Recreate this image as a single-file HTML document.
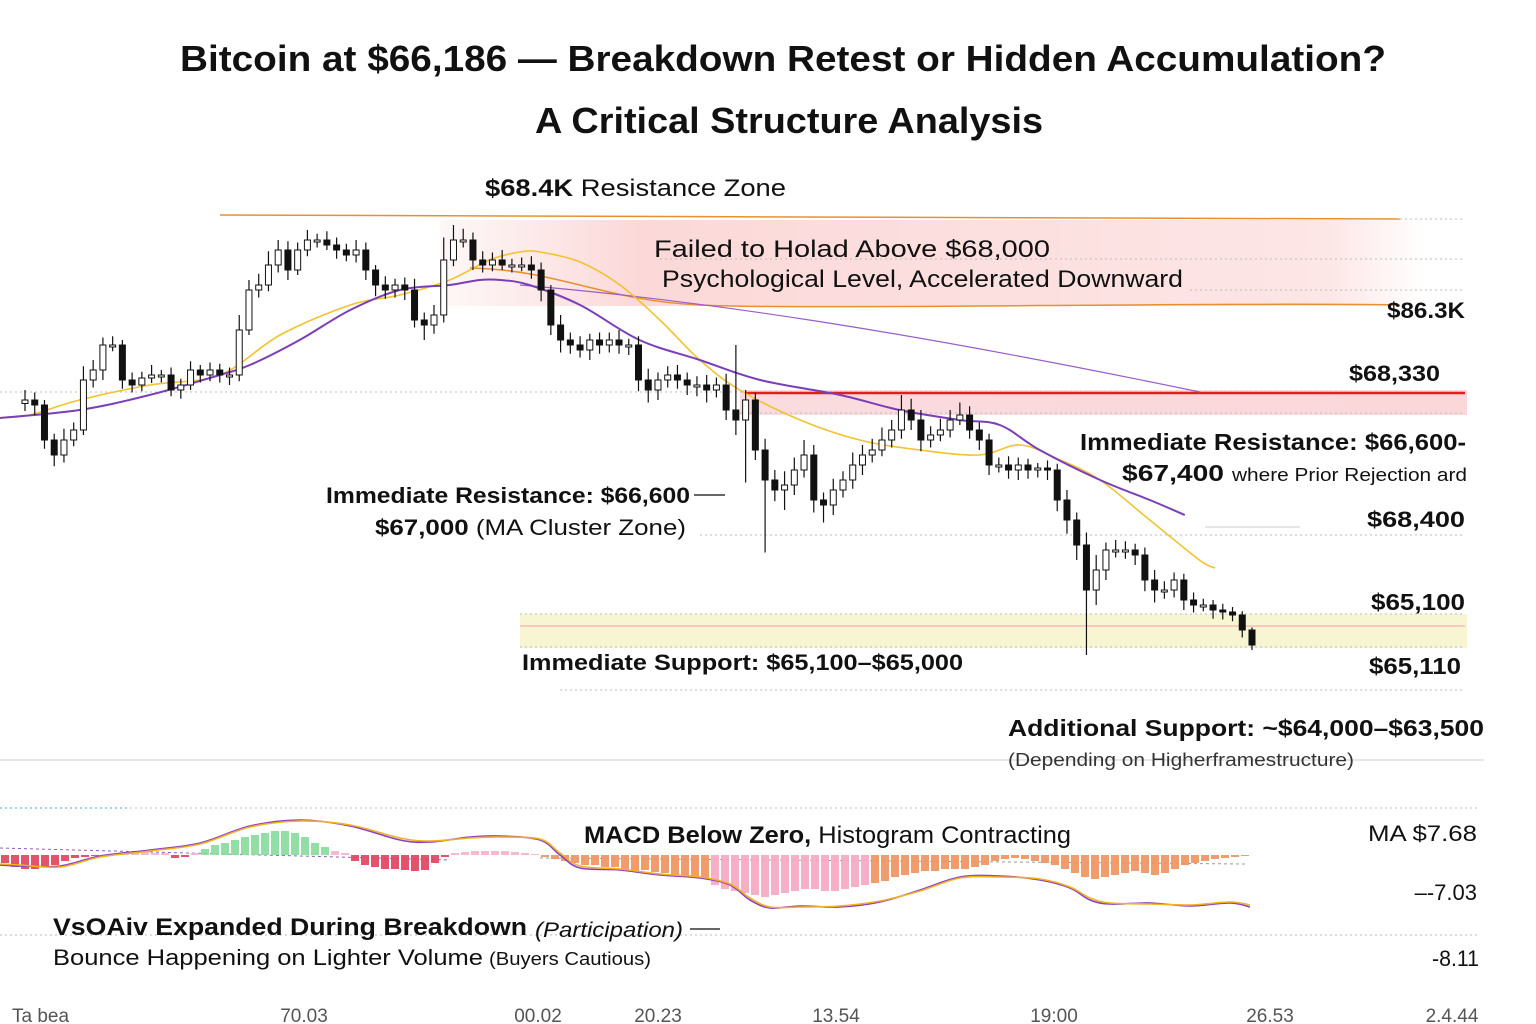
<!DOCTYPE html>
<html><head><meta charset="utf-8"><style>
body{margin:0;background:#fff;}
svg{display:block;font-family:"Liberation Sans",sans-serif;}
</style></head><body>
<svg id="chart" width="1536" height="1024" viewBox="0 0 1536 1024">
<defs>
<linearGradient id="resZone" x1="0" x2="1" y1="0" y2="0">
<stop offset="0" stop-color="#fbd9d9" stop-opacity="0.2"/><stop offset="0.2" stop-color="#fbd4d4" stop-opacity="0.9"/><stop offset="0.9" stop-color="#fde3e3" stop-opacity="0.9"/><stop offset="1" stop-color="#fde3e3" stop-opacity="0"/>
</linearGradient>
<linearGradient id="redBand" x1="0" x2="1"><stop offset="0" stop-color="#f7c5cb" stop-opacity="0.6"/><stop offset="1" stop-color="#fad4d6" stop-opacity="0.9"/></linearGradient>
</defs>
<g>
<text x="783" y="71" text-anchor="middle" font-size="36" font-weight="bold" fill="#111" textLength="1206" lengthAdjust="spacingAndGlyphs">Bitcoin at $66,186 — Breakdown Retest or Hidden Accumulation?</text>
<text x="789" y="133" text-anchor="middle" font-size="36" font-weight="bold" fill="#111" textLength="508" lengthAdjust="spacingAndGlyphs">A Critical Structure Analysis</text>
</g>
<g id="bg">
<rect x="440" y="220" width="985" height="86" fill="url(#resZone)"/>
<rect x="740" y="390" width="727" height="25" fill="url(#redBand)"/>
<rect x="520" y="614" width="947" height="34" fill="#f8f6d2"/>
<g stroke="#bbb" stroke-dasharray="2,3" stroke-width="1">
<line x1="1400" y1="219" x2="1465" y2="219"/><line x1="660" y1="259" x2="1465" y2="259"/><line x1="1190" y1="290" x2="1465" y2="290"/>
<line x1="0" y1="392" x2="1465" y2="392"/><line x1="740" y1="413" x2="1465" y2="413"/><line x1="700" y1="535" x2="1465" y2="535"/>
<line x1="520" y1="614" x2="1465" y2="614"/><line x1="520" y1="647" x2="1465" y2="647"/><line x1="560" y1="690" x2="1465" y2="690"/>
<line x1="130" y1="808" x2="1480" y2="808"/><line x1="0" y1="935" x2="1480" y2="935"/>
</g>
<line x1="0" y1="808" x2="130" y2="808" stroke="#4aa8d8" stroke-dasharray="2,3"/>
<line x1="1205" y1="527" x2="1300" y2="527" stroke="#ccc"/>
<line x1="0" y1="760" x2="1484" y2="760" stroke="#ccc"/>
<line x1="520" y1="626" x2="1465" y2="626" stroke="#f2a0a8" stroke-width="1"/>
<line x1="745" y1="393" x2="1465" y2="393" stroke="#e02020" stroke-width="2.5"/>
<line x1="220" y1="215" x2="1400" y2="219" stroke="#e89030" stroke-width="1.5"/>
<path d="M470 268 C560 270 600 300 700 305 S1200 302 1400 305" fill="none" stroke="#e89030" stroke-width="1.5"/>
<path d="M520 285 C700 300 900 330 1200 392" fill="none" stroke="#9a5cc8" stroke-width="1.2"/>
</g>
<g id="mas"></g>
<g id="candles"></g>
<g id="macd"></g>
<g fill="#111">
<text x="485" y="196" font-size="24" textLength="301" lengthAdjust="spacingAndGlyphs"><tspan font-weight="bold">$68.4K</tspan> Resistance Zone</text>
<text x="654" y="257" font-size="24" textLength="396" lengthAdjust="spacingAndGlyphs">Failed to Holad Above  $68,000</text>
<text x="662" y="287" font-size="24" textLength="521" lengthAdjust="spacingAndGlyphs">Psychological Level, Accelerated Downward</text>
<text x="1387" y="318" font-size="22" font-weight="bold" textLength="78" lengthAdjust="spacingAndGlyphs">$86.3K</text>
<text x="1349" y="381" font-size="22" font-weight="bold" textLength="91" lengthAdjust="spacingAndGlyphs">$68,330</text>
<text x="1080" y="450" font-size="23" font-weight="bold" textLength="386" lengthAdjust="spacingAndGlyphs">Immediate Resistance: $66,600-</text>
<text x="1122" y="481" font-size="23" font-weight="bold" textLength="102" lengthAdjust="spacingAndGlyphs">$67,400</text>
<text x="1232" y="481" font-size="18" textLength="235" lengthAdjust="spacingAndGlyphs">where Prior Rejection ard</text>
<text x="1367" y="527" font-size="22" font-weight="bold" textLength="98" lengthAdjust="spacingAndGlyphs">$68,400</text>
<text x="326" y="503" font-size="22" font-weight="bold" textLength="364" lengthAdjust="spacingAndGlyphs">Immediate Resistance: $66,600</text>
<line x1="694" y1="495" x2="725" y2="495" stroke="#333" stroke-width="1.5"/>
<text x="375" y="535" font-size="22" textLength="311" lengthAdjust="spacingAndGlyphs"><tspan font-weight="bold">$67,000</tspan> (MA Cluster Zone)</text>
<text x="1371" y="610" font-size="23" font-weight="bold" textLength="94" lengthAdjust="spacingAndGlyphs">$65,100</text>
<text x="522" y="670" font-size="22" font-weight="bold" textLength="441" lengthAdjust="spacingAndGlyphs">Immediate Support: $65,100–$65,000</text>
<text x="1369" y="674" font-size="23" font-weight="bold" textLength="92" lengthAdjust="spacingAndGlyphs">$65,110</text>
<text x="1008" y="736" font-size="23" font-weight="bold" textLength="476" lengthAdjust="spacingAndGlyphs">Additional Support: ~$64,000–$63,500</text>
<text x="1008" y="766" font-size="18" fill="#333" textLength="346" lengthAdjust="spacingAndGlyphs">(Depending on Higherframestructure)</text>
<text x="584" y="843" font-size="24" textLength="487" lengthAdjust="spacingAndGlyphs"><tspan font-weight="bold">MACD Below Zero,</tspan> Histogram Contracting</text>
<text x="1368" y="841" font-size="22" textLength="109" lengthAdjust="spacingAndGlyphs">MA $7.68</text>
<text x="1477" y="900" font-size="22" text-anchor="end">–-7.03</text>
<text x="53" y="935" font-size="24" font-weight="bold" textLength="474" lengthAdjust="spacingAndGlyphs">VsOAiv Expanded During Breakdown</text>
<text x="535" y="937" font-size="21" font-style="italic" textLength="148" lengthAdjust="spacingAndGlyphs">(Participation)</text>
<line x1="690" y1="929" x2="720" y2="929" stroke="#333" stroke-width="1.5"/>
<text x="53" y="965" font-size="22" textLength="430" lengthAdjust="spacingAndGlyphs">Bounce Happening on Lighter Volume</text>
<text x="489" y="965" font-size="18" textLength="162" lengthAdjust="spacingAndGlyphs">(Buyers Cautious)</text>
<text x="1432" y="966" font-size="22" textLength="47" lengthAdjust="spacingAndGlyphs">-8.11</text>
</g>
<g id="xaxis" font-size="19" fill="#555"></g>
</svg>
<script>
const closes=[66928,66888,66608,66488,66608,66688,67088,67168,67368,67368,
67088,67048,67104,67128,67128,67008,67048,67168,67128,67168,
67128,67128,67488,67808,67848,68008,68128,67968,68128,68208,
68208,68168,68128,68088,68128,67968,67848,67808,67848,67808,
67568,67528,67608,68048,68208,68208,68048,68008,68048,68008,
68008,68008,67968,67808,67528,67408,67368,67328,67408,67368,
67408,67368,67368,67088,67008,67088,67128,67088,67048,67048,
67008,67048,66848,66768,66928,66528,66288,66208,66248,66368,
66488,66128,66088,66208,66288,66408,66488,66528,66608,66688,
66848,66768,66608,66648,66688,66768,66808,66688,66608,66408,
66408,66368,66408,66368,66384,66368,66128,65968,65768,65408,
65568,65728,65728,65728,65688,65488,65408,65408,65488,65328,
65288,65288,65248,65232,65208,65088,64968];
const firstOpen=66900;
const wickUp=[80,60,40,50,90,60,110,80,60,70,40,60,50,80,40,60,50,70,40,60,
50,60,120,80,90,110,80,70,60,80,50,70,60,50,80,60,40,70,50,60,
90,60,80,180,120,90,60,70,60,80,50,60,70,60,40,80,60,70,50,60,
60,80,50,70,90,60,70,80,60,70,80,60,90,520,80,60,90,80,110,100,
120,80,60,90,70,100,80,90,100,80,120,90,80,70,90,80,100,70,60,50,
60,70,60,50,40,60,50,80,60,100,120,60,80,70,50,60,80,70,60,50,
60,50,40,50,40,30,20];
const wickDn=[60,80,70,90,60,50,40,60,80,50,70,60,50,40,60,50,70,40,60,50,
60,80,50,40,60,50,60,80,40,50,60,40,70,50,60,80,90,70,60,80,
60,120,70,60,50,60,80,60,50,40,60,50,70,90,80,100,70,60,80,70,
60,70,80,90,100,80,60,70,80,90,100,60,80,120,500,80,580,90,160,80,
60,100,140,80,60,70,80,60,50,60,70,80,90,60,50,60,40,70,80,80,
60,70,80,70,60,80,90,110,120,520,120,80,60,70,80,90,100,70,60,80,
60,50,70,60,50,60,40];
const maIdx=[-2.6,0.5,5.6,12.8,20,26.2,33.4,38.5,43.6,47.7,50.8,52.9,57,61.1,65.2,69.3,73.4,79.6,85.7,91.9,98,102.2,106.3,110.4,115.5,120.6,122.2];
const maYellow=[66784,66808,66928,67048,67128,67448,67688,67768,67888,68048,68112,68112,68032,67848,67568,67248,67008,66768,66608,66528,66488,66568,66448,66288,65968,65648,65584];
const maPIdx=[-2.6,5.6,12.8,20,23.1,28.2,33.4,38.5,43.6,46.7,48.8,51.8,57,63.1,69.3,75.5,83.7,89.8,96,100.1,104.2,110.4,115.5,119.1];
const maPurple=[66784,66848,66968,67128,67208,67408,67648,67808,67848,67888,67888,67848,67688,67408,67248,67088,66968,66848,66768,66728,66528,66288,66128,66008];
const hist=[-8,-12,-14,-14,-12,-10,-6,-3,-2,-1,0,1,2,2,3,2,2,-3,-2,2,6,10,12,15,18,20,22,24,24,22,18,12,8,4,2,-6,-10,-12,-14,-14,-15,-16,-15,-8,-2,2,3,4,4,4,4,3,2,1,-2,-4,-6,-8,-10,-10,-12,-12,-14,-16,-15,-17,-18,-20,-20,-22,-24,-30,-34,-36,-38,-40,-42,-40,-38,-36,-34,-34,-36,-36,-34,-32,-30,-28,-26,-22,-20,-18,-16,-16,-14,-14,-14,-12,-10,-6,-4,-3,-4,-6,-8,-10,-14,-18,-22,-24,-22,-20,-18,-16,-18,-20,-18,-14,-10,-8,-6,-4,-3,-2,-1];
const macdX=[0,20,60,100,150,200,250,300,350,400,430,470,500,540,560,580,620,660,700,730,750,770,800,840,880,920,960,1000,1040,1070,1090,1110,1150,1190,1230,1250];
const macdLine=[-10,-11,-11,-1,5,12,29,35,29,15,13,18,19,15,0,-13,-15,-20,-23,-30,-45,-53,-51,-52,-47,-35,-22,-21,-25,-33,-45,-49,-48,-51,-48,-52];
const signalLine=[-9,-10,-12,-2,4,11,28,34,30,17,14,17,18,16,2,-11,-14,-19,-22,-29,-43,-52,-52,-51,-46,-36,-23,-22,-24,-32,-43,-48,-49,-50,-47,-50];
const xTickLabels=["Ta bea","70.03","00.02","20.23","13.54","19:00","26.53","2.4.44"];
const xTickPos=[12,304,538,658,836,1054,1270,1452];

const NS="http://www.w3.org/2000/svg";
const x0=25,x1=1252;
const step=(x1-x0)/(closes.length-1);
const xScale=i=>x0+i*step;
const yScale=p=>216+(68400-p)/8;
const zeroY=855;
const hScale=v=>zeroY-v;
function mk(tag,parent,attrs){const e=document.createElementNS(NS,tag);for(const k in attrs)e.setAttribute(k,attrs[k]);parent.appendChild(e);return e;}

const cg=document.getElementById('candles');
closes.forEach((c,i)=>{
  const o=i===0?firstOpen:closes[i-1];
  const x=xScale(i);
  const hi=Math.max(o,c)+wickUp[i], lo=Math.min(o,c)-wickDn[i];
  const g=mk('g',cg,{});
  
  
  mk('line',g,{x1:x,x2:x,y1:yScale(hi),y2:yScale(lo),stroke:'#111','stroke-width':1.2});
  const top=yScale(Math.max(o,c)),bot=yScale(Math.min(o,c));
  const bear=c<o;
  mk('rect',g,{x:x-3,y:top,width:6,height:Math.max(2,bot-top),fill:bear?'#111':'#fff',stroke:'#111','stroke-width':1});
});

const mg=document.getElementById('mas');
function line(parent,xs,ys,color,w,name){
  let d='M'+xs[0].toFixed(1)+' '+ys[0].toFixed(1);
  for(let i=1;i<xs.length;i++){
    const p0=[xs[Math.max(0,i-2)],ys[Math.max(0,i-2)]],p1=[xs[i-1],ys[i-1]],p2=[xs[i],ys[i]],p3=[xs[Math.min(xs.length-1,i+1)],ys[Math.min(xs.length-1,i+1)]];
    const c1=[p1[0]+(p2[0]-p0[0])/6,p1[1]+(p2[1]-p0[1])/6],c2=[p2[0]-(p3[0]-p1[0])/6,p2[1]-(p3[1]-p1[1])/6];
    d+=' C'+c1[0].toFixed(1)+' '+c1[1].toFixed(1)+' '+c2[0].toFixed(1)+' '+c2[1].toFixed(1)+' '+p2[0].toFixed(1)+' '+p2[1].toFixed(1);
  }
  const p=mk('path',parent,{d:d,fill:'none',stroke:color,'stroke-width':w,'stroke-linejoin':'round'});
  
  
}
line(mg,maIdx.map(xScale),maYellow.map(yScale),'#f2c230',1.6,'ma-fast');
line(mg,maPIdx.map(xScale),maPurple.map(yScale),'#7a3fb8',2,'ma-slow');

const hg=document.getElementById('macd');
mk('line',hg,{x1:0,y1:848,x2:450,y2:860,stroke:'#8b5ec8','stroke-dasharray':'3,3','stroke-width':1});
mk('line',hg,{x1:540,y1:858,x2:1245,y2:864,stroke:'#999','stroke-dasharray':'3,3','stroke-width':1});
hist.forEach((v,i)=>{
  const x=5+i*10;
  let col;
  if(v>0) col=v>5?'#86dc9c':'#f6b3c8';
  else if(v<-28) col='#f5a6c0';
  else if(x<450) col='#e0405e';
  else col='#f0915c';
  const r=mk('rect',hg,{x:x-4,y:Math.min(zeroY,hScale(v)),width:8,height:Math.max(1,Math.abs(v)),fill:col,opacity:0.9});
  
  
});
line(hg,macdX,macdLine.map(hScale),'#8b3fc8',1.6,'macd-line');
line(hg,macdX,signalLine.map(hScale),'#f2b020',1.6,'signal-line');

const xa=document.getElementById('xaxis');
xTickLabels.forEach((t,i)=>{
  const e=mk('text',xa,{x:xTickPos[i],y:1022,'text-anchor':i===0?'start':'middle'});
  e.textContent=t;
  
  
});
</script>
</body></html>
